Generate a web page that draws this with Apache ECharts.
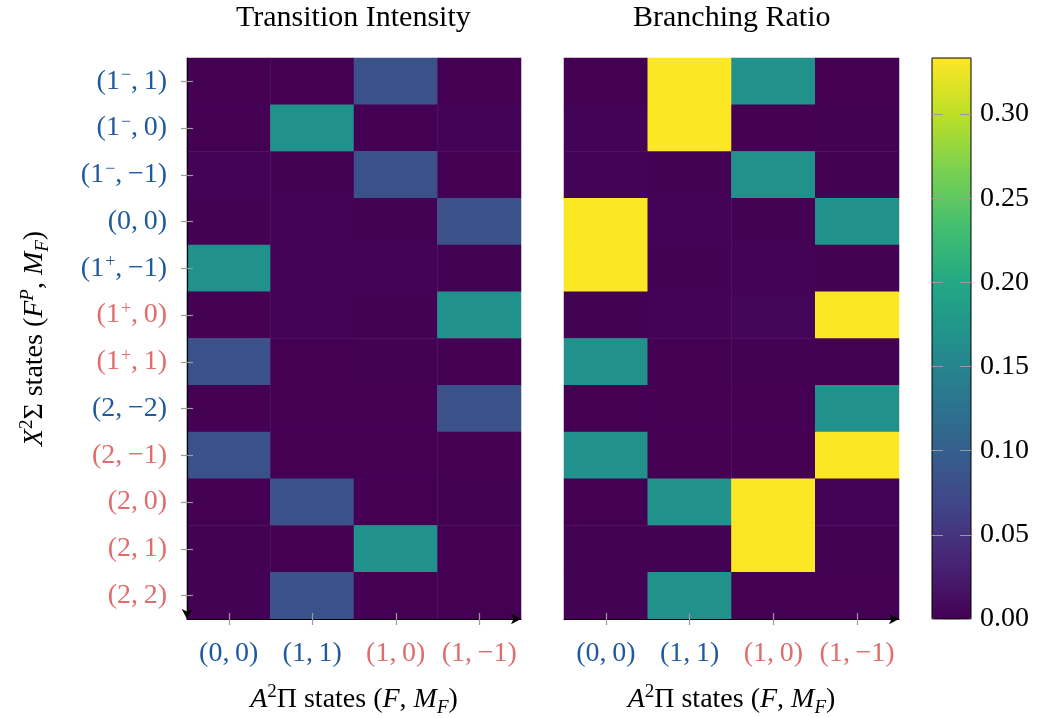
<!DOCTYPE html>
<html>
<head>
<meta charset="utf-8">
<script src="https://cdn.jsdelivr.net/npm/echarts@6/dist/echarts.min.js"></script>
<style>
html,body{margin:0;padding:0;background:#fff;}
#chart{width:1042px;height:718px;}
</style>
</head>
<body>
<div id="chart"></div>
<script>
// ---- data ----
const colLabels = ['(0,\u20090)', '(1,\u20091)', '(1,\u20090)', '(1,\u2009\u22121)'];
const rowLabels = ['(1\u207B,\u20091)', '(1\u207B,\u20090)', '(1\u207B,\u2009\u22121)', '(0,\u20090)', '(1\u207A,\u2009\u22121)', '(1\u207A,\u20090)', '(1\u207A,\u20091)', '(2,\u2009\u22122)', '(2,\u2009\u22121)', '(2,\u20090)', '(2,\u20091)', '(2,\u20092)'];
const colIsRed = [false, false, true, true];
const rowIsRed = [false, false, false, false, false, true, true, false, true, true, true, true];
const colorbarTicks = [0, 0.05, 0.10, 0.15, 0.20, 0.25, 0.30];
const scaleMax = 1 / 3;

// rows (top to bottom) x columns
const intensity = [
  [0.000, 0.000, 0.083, 0.000],
  [0.000, 0.167, 0.000, 0.002],
  [0.002, 0.001, 0.083, 0.000],
  [0.001, 0.002, 0.001, 0.083],
  [0.167, 0.002, 0.002, 0.001],
  [0.000, 0.002, 0.001, 0.167],
  [0.083, 0.000, 0.001, 0.000],
  [0.000, 0.000, 0.000, 0.083],
  [0.083, 0.000, 0.000, 0.000],
  [0.000, 0.083, 0.000, 0.001],
  [0.001, 0.000, 0.167, 0.000],
  [0.001, 0.083, 0.000, 0.000]
];
const branching = [
  [0.000, 0.333, 0.167, 0.000],
  [0.002, 0.333, 0.000, 0.001],
  [0.002, 0.001, 0.167, 0.001],
  [0.333, 0.002, 0.001, 0.167],
  [0.333, 0.001, 0.002, 0.001],
  [0.001, 0.002, 0.004, 0.333],
  [0.167, 0.000, 0.001, 0.001],
  [0.000, 0.000, 0.000, 0.167],
  [0.167, 0.000, 0.000, 0.333],
  [0.000, 0.167, 0.333, 0.002],
  [0.001, 0.001, 0.333, 0.001],
  [0.001, 0.167, 0.000, 0.000]
];

// ---- style ----
const FONT = 'Liberation Serif';
const BLUE = '#1f5a9c';
const RED = '#e06d6d';
const TICK = '#9a9a9a';
const viridis = ['#440154', '#482475', '#414487', '#355f8d', '#2a788e', '#21918c', '#22a884', '#44bf70', '#7ad151', '#bddf26', '#fde725'];

function toCells(m) {
  const out = [];
  m.forEach((row, i) => row.forEach((v, j) => out.push([j, i, v])));
  return out;
}
// turn unicode superscript signs into rich-text superscripts
function labelRich(v) {
  return v.split(/([\u207A\u207B])/).filter(s => s.length).map(s => {
    if (s === '\u207B') return '{s|\u2212}';
    if (s === '\u207A') return '{s|+}';
    return '{n|' + s + '}';
  }).join('');
}
const labelRichStyles = {
  n: {fontFamily: FONT, fontSize: 28, lineHeight: 34},
  s: {fontFamily: FONT, fontSize: 18, lineHeight: 18, verticalAlign: 'top', padding: [2, 0, 0, 1]}
};

const chart = echarts.init(document.getElementById('chart'), null, {renderer: 'canvas'});

const gridTop = 58, gridH = 561;
const richName = {
  r: {fontFamily: FONT, fontSize: 28, color: '#000', lineHeight: 34},
  i: {fontFamily: FONT, fontSize: 28, fontStyle: 'italic', color: '#000', lineHeight: 34},
  sup: {fontFamily: FONT, fontSize: 19, color: '#000', verticalAlign: 'top', lineHeight: 19},
  isup: {fontFamily: FONT, fontSize: 19, fontStyle: 'italic', color: '#000', verticalAlign: 'top', lineHeight: 19},
  isub: {fontFamily: FONT, fontSize: 19, fontStyle: 'italic', color: '#000', verticalAlign: 'bottom', lineHeight: 19}
};
const xName = '{i|A}{sup|2}{r|\u03A0 states (}{i|F}{r|, }{i|M}{isub|F}{r|)}';
const yName = '{i|X}{sup|2}{r|\u03A3 states (}{i|F}{isup|P}{r|, }{i|M}{isub|F}{r|)}';

const blankLabel = {show: true, formatter: () => '', color: 'rgba(0,0,0,0)'};

function xAxisMain(gridIndex) {
  return {
    type: 'category', gridIndex, data: colLabels, position: 'bottom',
    name: xName, nameLocation: 'middle', nameGap: 64,
    nameTextStyle: {rich: richName},
    axisLine: {show: true, lineStyle: {color: '#000', width: 1.2}, symbol: ['none', 'arrow'], symbolSize: [8, 10]},
    axisTick: {show: true, alignWithLabel: true, interval: 0, length: 6, lineStyle: {color: TICK, width: 1.2}},
    axisLabel: {
      fontFamily: FONT, fontSize: 28, margin: 21, interval: 0,
      color: (v, idx) => colIsRed[idx] ? RED : BLUE
    },
    splitLine: {show: false}, z: 5
  };
}
function xAxisInner(gridIndex) {
  return {
    type: 'category', gridIndex, data: colLabels, position: 'bottom',
    axisLine: {show: false}, axisLabel: blankLabel,
    axisTick: {show: true, inside: true, interval: 0, alignWithLabel: true, length: 6, lineStyle: {color: TICK, width: 1.2}},
    splitLine: {show: false}, z: 5
  };
}
const noBounds = {outerBoundsMode: 'none', containLabel: false};

const option = {
  backgroundColor: '#fff',
  animation: false,
  graphic: [
    {type: 'text', left: 354 - 118, top: 3, z: 20, style: {text: 'Transition Intensity', font: '30px "' + FONT + '"', fill: '#000'}},
    {type: 'text', left: 732 - 99, top: 3, z: 20, style: {text: 'Branching Ratio', font: '30px "' + FONT + '"', fill: '#000'}}
  ],
  grid: [
    Object.assign({left: 187, top: gridTop, width: 334, height: gridH}, noBounds),
    Object.assign({left: 564, top: gridTop, width: 335, height: gridH}, noBounds),
    Object.assign({left: 932, top: gridTop, width: 39, height: gridH, show: true, borderColor: '#000', borderWidth: 1, backgroundColor: 'transparent', z: 10}, noBounds),
    Object.assign({left: 187, top: gridTop, width: 334, height: gridH, z: 6}, noBounds),
    Object.assign({left: 564, top: gridTop, width: 335, height: gridH, z: 6}, noBounds),
    Object.assign({left: 932, top: gridTop, width: 39, height: gridH, z: 12}, noBounds)
  ],
  xAxis: [
    xAxisMain(0),
    xAxisMain(1),
    {type: 'value', gridIndex: 2, show: false, min: 0, max: 1},
    xAxisInner(3),
    xAxisInner(4),
    {type: 'value', gridIndex: 5, show: false, min: 0, max: 1}
  ],
  yAxis: [
    {
      type: 'category', gridIndex: 0, data: rowLabels, inverse: true, position: 'left',
      name: yName, nameLocation: 'middle', nameGap: 135, nameRotate: 90,
      nameTextStyle: {rich: richName},
      axisLine: {show: true, lineStyle: {color: '#000', width: 1.2}, symbol: ['arrow', 'none'], symbolSize: [8, 10]},
      axisTick: {show: true, alignWithLabel: true, interval: 0, length: 6, lineStyle: {color: TICK, width: 1.2}},
      axisLabel: {
        fontFamily: FONT, fontSize: 28, margin: 20, interval: 0,
        formatter: labelRich, rich: labelRichStyles,
        color: (v, idx) => rowIsRed[idx] ? RED : BLUE
      },
      splitLine: {show: false}, z: 5
    },
    {type: 'category', gridIndex: 1, data: rowLabels, inverse: true, show: false},
    {
      type: 'value', gridIndex: 2, min: 0, max: scaleMax, interval: 0.05, position: 'right',
      axisLine: {show: false, onZero: false}, splitLine: {show: false},
      axisTick: {show: true, inside: true, length: 11, lineStyle: {color: TICK, width: 1}},
      axisLabel: {show: true, showMaxLabel: false, margin: 9, fontFamily: FONT, fontSize: 28, color: '#000',
        formatter: v => colorbarTicks.some(t => Math.abs(t - v) < 1e-9) ? v.toFixed(2) : ''}, z: 12
    },
    {
      type: 'category', gridIndex: 3, data: rowLabels, inverse: true, position: 'left',
      axisLine: {show: false}, axisLabel: blankLabel,
      axisTick: {show: true, inside: true, interval: 0, alignWithLabel: true, length: 6, lineStyle: {color: TICK, width: 1.2}},
      splitLine: {show: false}, z: 5
    },
    {type: 'category', gridIndex: 4, data: rowLabels, inverse: true, show: false},
    {
      type: 'value', gridIndex: 5, min: 0, max: scaleMax, interval: 0.05, position: 'left',
      axisLine: {show: false, onZero: false}, splitLine: {show: false}, axisLabel: {show: true, showMaxLabel: false, formatter: () => ''},
      axisTick: {show: true, inside: true, length: 11, lineStyle: {color: TICK, width: 1}}, z: 12
    }
  ],
  visualMap: {
    type: 'continuous', min: 0, max: scaleMax, calculable: false, realtime: false,
    seriesIndex: [0, 1], inRange: {color: viridis}, z: 1,
    left: 932, top: gridTop, itemWidth: 39, itemHeight: gridH, padding: 0,
    text: null, showLabel: false, orient: 'vertical', hoverLink: false
  },
  series: [
    {type: 'heatmap', xAxisIndex: 0, yAxisIndex: 0, data: toCells(intensity), itemStyle: {borderWidth: 0}, emphasis: {disabled: true}, progressive: 0},
    {type: 'heatmap', xAxisIndex: 1, yAxisIndex: 1, data: toCells(branching), itemStyle: {borderWidth: 0}, emphasis: {disabled: true}, progressive: 0},
    {type: 'scatter', xAxisIndex: 2, yAxisIndex: 2, data: [], silent: true},
    {type: 'scatter', xAxisIndex: 3, yAxisIndex: 3, data: [], silent: true},
    {type: 'scatter', xAxisIndex: 4, yAxisIndex: 4, data: [], silent: true},
    {type: 'scatter', xAxisIndex: 5, yAxisIndex: 5, data: [], silent: true}
  ]
};
chart.setOption(option);
</script>
</body>
</html>
